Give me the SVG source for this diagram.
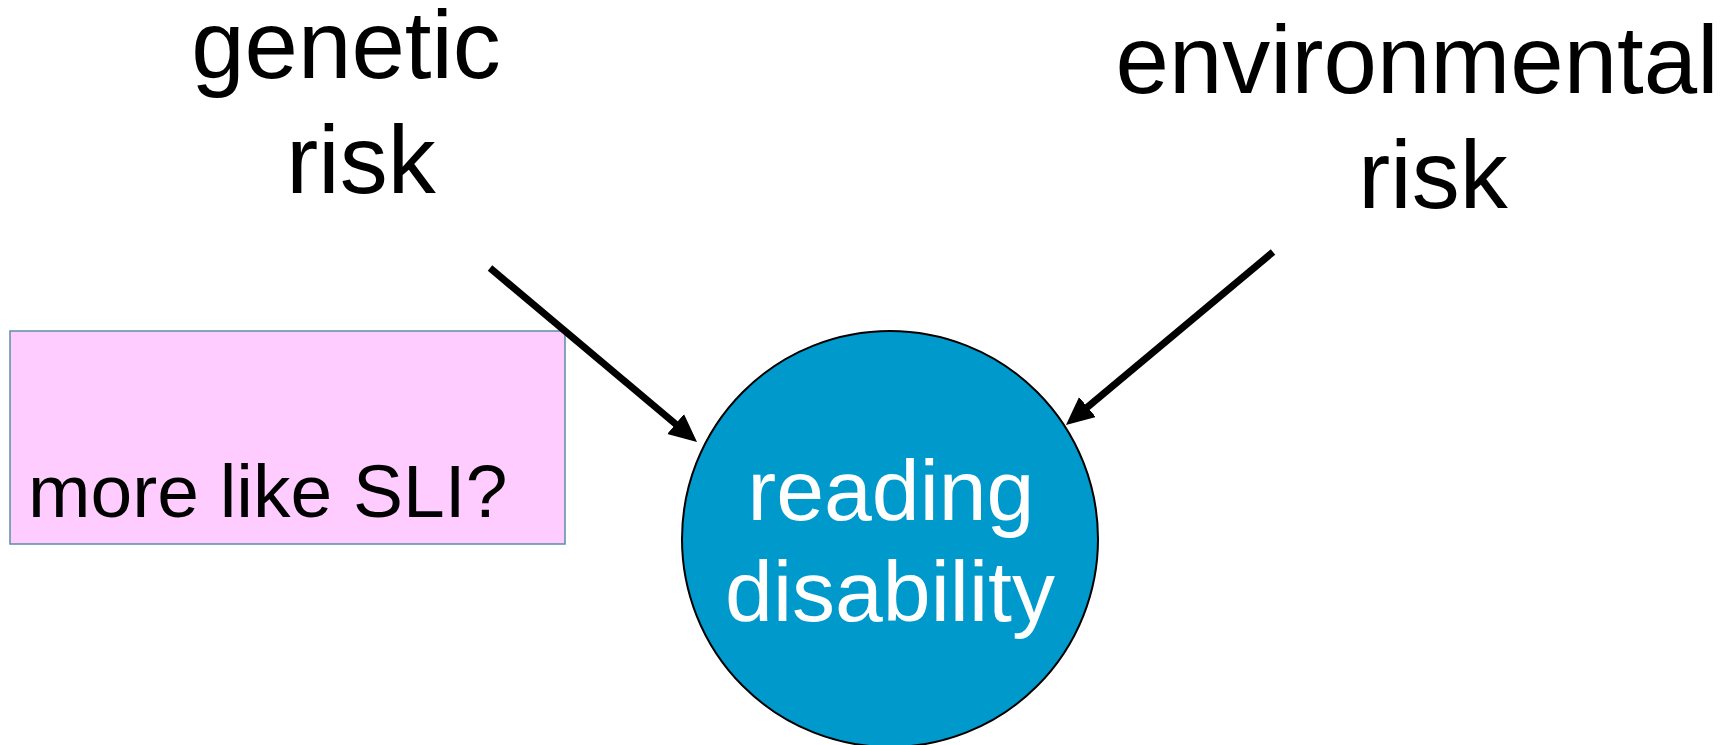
<svg xmlns="http://www.w3.org/2000/svg" width="1735" height="745" viewBox="0 0 1735 745">
  <style>
    .lbl { font-family: "Liberation Sans", Arial, sans-serif; fill: #000; }
    .big { font-size: 96px; }
    .note { font-size: 75px; }
    .inner { font-family: "Liberation Sans", Arial, sans-serif; font-size: 86px; fill: #fff; text-anchor: middle; }
    .link { stroke: #000; stroke-width: 7; fill: none; stroke-linecap: butt; marker-end: url(#head); }
  </style>
  <defs>
    <marker id="head" markerUnits="userSpaceOnUse" markerWidth="30" markerHeight="28" refX="8" refY="13" orient="auto" viewBox="0 0 30 28">
      <path d="M0,0 L28,13 L0,26 Z" fill="#000"/>
    </marker>
  </defs>
  <rect width="1735" height="745" fill="#fff"/>

  <g id="genetic-risk">
    <text class="lbl big" x="346" y="78" text-anchor="middle">genetic</text>
    <text class="lbl big" x="361" y="193" text-anchor="middle">risk</text>
  </g>

  <g id="environmental-risk">
    <text class="lbl big" x="1417" y="93" text-anchor="middle">environmental</text>
    <text class="lbl big" x="1433" y="208" text-anchor="middle">risk</text>
  </g>

  <g id="sli-note">
    <rect x="10" y="331" width="555" height="213" fill="#ffccff" stroke="#5a8fa6" stroke-width="1.5"/>
    <text class="lbl note" x="28" y="517">more like SLI?</text>
  </g>

  <g id="reading-disability">
    <circle cx="890" cy="539" r="208" fill="#0099cc" stroke="#000" stroke-width="2"/>
    <text class="inner" x="891" y="520">reading</text>
    <text class="inner" x="890" y="621">disability</text>
  </g>

  <!-- line ends stop 20px short of the tip; the marker head covers the gap -->
  <g id="connectors">
    <path class="link" d="M490,268 L681.7,429.1"/>
    <path class="link" d="M1273,252 L1081.3,412.2"/>
  </g>
</svg>
